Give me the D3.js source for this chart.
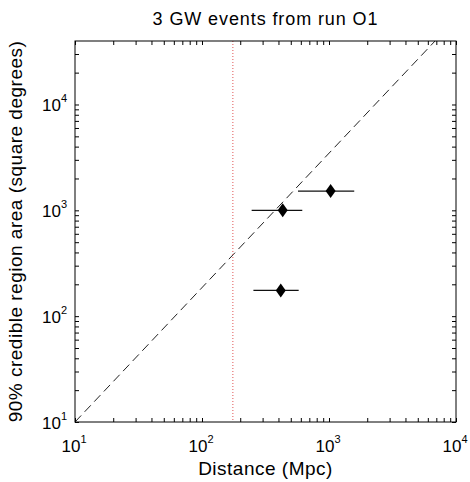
<!DOCTYPE html>
<html><head><meta charset="utf-8">
<script src="https://cdn.jsdelivr.net/npm/d3@7"></script>
<style>
body{margin:0;background:#fff}
text{font-family:"Liberation Sans",Arial,Helvetica,sans-serif;fill:#000}
</style>
</head><body>
<svg id="chart" width="470" height="482"></svg>
<script>
// ---- data ----
const titleText = "3 GW events from run O1";
const xLabelText = "Distance (Mpc)";
const yLabelText = "90% credible region area (square degrees)";
const xDomain = [10, 10000];
const yDomain = [10, 39810];
const xMajorTicks = [10, 100, 1000, 10000];
const yMajorTicks = [10, 100, 1000, 10000];
const eventDistance = [1030, 432, 417];
const eventDistLow = [570, 246, 254];
const eventDistHigh = [1580, 616, 577];
const eventArea = [1520, 1000, 175];
const refLineX = [10, 6840];
const refLineY = [10, 39810];
const horizonDistance = [175];

// ---- layout ----
const m = {left: 75, right: 456, top: 41, bottom: 422};
const svg = d3.select("#chart");
const x = d3.scaleLog().domain(xDomain).range([m.left, m.right]);
const y = d3.scaleLog().domain(yDomain).range([m.bottom, m.top]);

function minorTicks(domain) {
  const out = [];
  for (let d = 1; d <= domain[1]; d *= 10)
    for (let k = 1; k <= 9; k++) {
      const v = k * d;
      if (v >= domain[0] && v <= domain[1]) out.push(v);
    }
  return out;
}
const xTicks = minorTicks(xDomain);
const yTicks = minorTicks(yDomain);
const TL = 4;

// plot background
svg.append("rect").attr("x", m.left).attr("y", m.top)
  .attr("width", m.right - m.left).attr("height", m.bottom - m.top)
  .attr("fill", "#fff");

// axes (inward ticks on all four sides)
function styleAxis(g) {
  g.selectAll(".domain").remove();
  g.selectAll(".tick line").attr("stroke", "#000").attr("stroke-width", 1);
  g.selectAll(".tick text").remove();
}
svg.append("g").attr("transform", `translate(0,${m.bottom})`)
  .call(d3.axisBottom(x).tickValues(xTicks).tickSize(-TL)).call(styleAxis);
svg.append("g").attr("transform", `translate(0,${m.top})`)
  .call(d3.axisTop(x).tickValues(xTicks).tickSize(-TL)).call(styleAxis);
svg.append("g").attr("transform", `translate(${m.left},0)`)
  .call(d3.axisLeft(y).tickValues(yTicks).tickSize(-TL)).call(styleAxis);
svg.append("g").attr("transform", `translate(${m.right},0)`)
  .call(d3.axisRight(y).tickValues(yTicks).tickSize(-TL)).call(styleAxis);

// tick labels 10^n
function expOf(v) { return Math.round(Math.log10(v)); }
const xl = svg.append("g").selectAll("text").data(xMajorTicks).join("text")
  .attr("x", d => x(d) - 1).attr("y", 452)
  .attr("text-anchor", "middle").style("font-size", "17px");
xl.append("tspan").text("10");
xl.append("tspan").attr("dy", -9).style("font-size", "11px").text(d => expOf(d));

const yl = svg.append("g").selectAll("text").data(yMajorTicks).join("text")
  .attr("x", 67).attr("y", d => y(d) + 7)
  .attr("text-anchor", "end").style("font-size", "17px");
yl.append("tspan").text("10");
yl.append("tspan").attr("dy", -9).style("font-size", "11px").text(d => expOf(d));

// reference dashed line
svg.append("line")
  .attr("x1", x(refLineX[0])).attr("y1", y(refLineY[0]))
  .attr("x2", x(refLineX[1])).attr("y2", y(refLineY[1]))
  .attr("stroke", "#222").attr("stroke-width", 1)
  .attr("stroke-dasharray", "9,5");

// vertical dotted red line
svg.append("g").selectAll("line").data(horizonDistance).join("line")
  .attr("x1", d => x(d)).attr("x2", d => x(d))
  .attr("y1", m.top).attr("y2", m.bottom)
  .attr("stroke", "#e05555").attr("stroke-width", 1)
  .attr("stroke-dasharray", "1,2");

// error bars
const idx = d3.range(eventDistance.length);
svg.append("g").selectAll("line").data(idx).join("line")
  .attr("x1", i => x(eventDistLow[i])).attr("x2", i => x(eventDistHigh[i]))
  .attr("y1", i => y(eventArea[i])).attr("y2", i => y(eventArea[i]))
  .attr("stroke", "#111").attr("stroke-width", 1.2);

// diamonds
svg.append("g").selectAll("path").data(idx).join("path")
  .attr("transform", i => `translate(${x(eventDistance[i])},${y(eventArea[i])})`)
  .attr("d", "M0,-7L5,0L0,7L-5,0Z")
  .attr("fill", "#000");

// box
svg.append("rect").attr("x", m.left).attr("y", m.top)
  .attr("width", m.right - m.left).attr("height", m.bottom - m.top)
  .attr("fill", "none").attr("stroke", "#000").attr("stroke-width", 1);

// title & labels
svg.append("text").attr("x", (m.left + m.right) / 2).attr("y", 25)
  .attr("text-anchor", "middle").style("font-size", "18px")
  .style("letter-spacing", "0.9px").text(titleText);
svg.append("text").attr("x", (m.left + m.right) / 2).attr("y", 475)
  .attr("text-anchor", "middle").style("font-size", "19px")
  .style("letter-spacing", "0.5px").text(xLabelText);
svg.append("text")
  .attr("transform", `translate(22,${(m.top + m.bottom) / 2}) rotate(-90)`)
  .attr("text-anchor", "middle").style("font-size", "19px")
  .style("letter-spacing", "0.5px").text(yLabelText);
</script>
</body></html>
